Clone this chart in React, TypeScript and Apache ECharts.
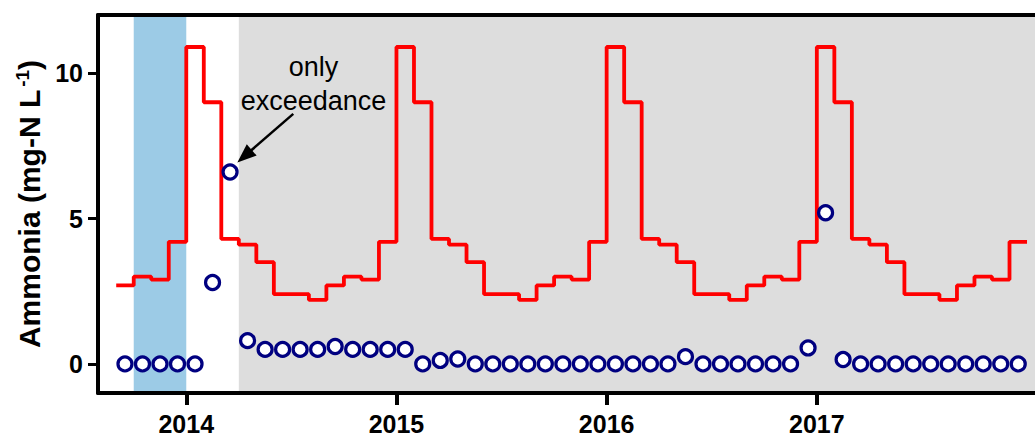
import React, { useEffect, useRef } from "react";
import * as echarts from "echarts";

// ---- data ----
const sampleYears = [2013, 2014, 2015, 2016, 2017];
const firstMonth = [9, 1, 1, 1, 1]; // first month (1-12) present in each year

const ammonia2013 = [0, 0, 0, 0];
const ammonia2014 = [0, 2.8, 6.6, 0.8, 0.5, 0.5, 0.5, 0.5, 0.6, 0.5, 0.5, 0.5];
const ammonia2015 = [0.5, 0, 0.12, 0.17, 0, 0, 0, 0, 0, 0, 0, 0];
const ammonia2016 = [0, 0, 0, 0, 0.25, 0, 0, 0, 0, 0, 0, 0.55];
const ammonia2017 = [5.2, 0.15, 0, 0, 0, 0, 0, 0, 0, 0, 0, 0];

const limit2013 = [2.7, 3.0, 2.9, 4.2];
const limit2014 = [10.9, 9.0, 4.3, 4.1, 3.5, 2.4, 2.4, 2.2, 2.7, 3.0, 2.9, 4.2];
const limit2015 = [10.9, 9.0, 4.3, 4.1, 3.5, 2.4, 2.4, 2.2, 2.7, 3.0, 2.9, 4.2];
const limit2016 = [10.9, 9.0, 4.3, 4.1, 3.5, 2.4, 2.4, 2.2, 2.7, 3.0, 2.9, 4.2];
const limit2017 = [10.9, 9.0, 4.3, 4.1, 3.5, 2.4, 2.4, 2.2, 2.7, 3.0, 2.9, 4.2];

const ammoniaYears = [ammonia2013, ammonia2014, ammonia2015, ammonia2016, ammonia2017];
const limitYears = [limit2013, limit2014, limit2015, limit2016, limit2017];

const xTicks = [2014, 2015, 2016, 2017];
const yTicks = [0, 5, 10];
const xMin = 2013.58;
const xMax = 2018.038;
const yMin = -1;
const yMax = 12;

const blueBand = [2013.75, 2014.0];
const greyBand = [2014.25, xMax];

const yTitle = "Ammonia (mg-N L";
const ySup = "-1";
const noteText = "only\nexceedance";
const notePos = [2014.605, 9.63];
const arrowTail = [2014.509, 8.6];
const arrowHead = [2014.243, 6.93];

// ---- build series data ----
const samplePoints: number[][] = [];
const limitPoints: number[][] = [];
sampleYears.forEach((yr, i) => {
  ammoniaYears[i].forEach((v, j) => {
    const m = firstMonth[i] - 1 + j;
    samplePoints.push([yr + (m + 0.5) / 12, v]);
  });
  limitYears[i].forEach((v, j) => {
    const m = firstMonth[i] - 1 + j;
    limitPoints.push([yr + m / 12, v]);
  });
});
{
  const lastYear = sampleYears[sampleYears.length - 1];
  const lastLimits = limitYears[limitYears.length - 1];
  limitPoints.push([lastYear + 1, lastLimits[lastLimits.length - 1]]);
}

const FONT = "'Liberation Sans', Arial, Helvetica, sans-serif";

export default function App() {
  const ref = useRef<HTMLDivElement>(null);
  useEffect(() => {
    const chart = echarts.init(ref.current!, null, { renderer: "svg" });
    const option: any = {
      animation: false,
      backgroundColor: "#ffffff",
      grid: { left: 98, right: 0, top: 15, bottom: 43, containLabel: false },
      xAxis: [
        {
          type: "value",
          min: xMin,
          max: xMax,
          z: 10,
          axisLine: { show: true, onZero: false, lineStyle: { color: "#000", width: 4 } },
          axisTick: { show: true, customValues: xTicks, length: 12, inside: false, lineStyle: { color: "#000", width: 4 } },
          axisLabel: {
            show: true,
            customValues: xTicks,
            formatter: (v: number) => String(Math.round(v)),
            margin: 18,
            color: "#000",
            fontSize: 25,
            fontWeight: "bold",
            fontFamily: FONT,
          },
          splitLine: { show: false },
        },
        {
          type: "value",
          position: "top",
          min: xMin,
          max: xMax,
          z: 10,
          axisLine: { show: true, onZero: false, lineStyle: { color: "#000", width: 4 } },
          axisTick: { show: false },
          axisLabel: { show: false },
          splitLine: { show: false },
        },
      ],
      yAxis: {
        type: "value",
        min: yMin,
        max: yMax,
        z: 10,
        axisLine: { show: true, onZero: false, lineStyle: { color: "#000", width: 4 } },
        axisTick: { show: true, customValues: yTicks, length: 10, lineStyle: { color: "#000", width: 3 } },
        axisLabel: {
          show: true,
          customValues: yTicks,
          margin: 15,
          color: "#000",
          fontSize: 25,
          fontWeight: "bold",
          fontFamily: FONT,
        },
        splitLine: { show: false },
        name: "{a|" + yTitle + "}{s|" + ySup + "}{a|)}",
        nameLocation: "middle",
        nameRotate: 90,
        nameGap: 48,
        nameTextStyle: {
          rich: {
            a: { fontSize: 30, fontWeight: "bold", fontFamily: FONT, color: "#000", lineHeight: 33 },
            s: { fontSize: 19, fontWeight: "bold", fontFamily: FONT, color: "#000", verticalAlign: "top", lineHeight: 19, padding: [0, 0, 0, 3] },
          },
        },
      },
      series: [
        {
          type: "scatter",
          z: 1,
          silent: true,
          data: [],
          markArea: {
            silent: true,
            data: [
              [{ xAxis: blueBand[0], itemStyle: { color: "#9ccbe6" } }, { xAxis: blueBand[1] }],
              [{ xAxis: greyBand[0], itemStyle: { color: "#dddddd" } }, { xAxis: greyBand[1] }],
            ],
          },
        },
        {
          type: "line",
          z: 3,
          step: "end",
          data: limitPoints,
          showSymbol: false,
          symbol: "none",
          lineStyle: { color: "#ff0000", width: 3.8 },
        },
        {
          type: "scatter",
          z: 4,
          data: samplePoints,
          symbol: "circle",
          symbolSize: 14,
          itemStyle: { color: "#ffffff", borderColor: "#000080", borderWidth: 3.2, opacity: 1 },
        },
        {
          type: "custom",
          z: 5,
          coordinateSystem: "cartesian2d",
          data: [[notePos[0], notePos[1], arrowTail[0], arrowTail[1], arrowHead[0], arrowHead[1]]],
          encode: { x: [0, 2, 4], y: [1, 3, 5] },
          renderItem: (params: any, api: any) => {
            const t = api.coord([api.value(0), api.value(1)]);
            const a = api.coord([api.value(2), api.value(3)]);
            const h = api.coord([api.value(4), api.value(5)]);
            const dx = h[0] - a[0];
            const dy = h[1] - a[1];
            const len = Math.hypot(dx, dy);
            const ux = dx / len;
            const uy = dy / len;
            const headLen = 19;
            const headW = 7.5;
            const bx = h[0] - ux * headLen;
            const by = h[1] - uy * headLen;
            const px = -uy;
            const py = ux;
            return {
              type: "group",
              children: [
                {
                  type: "line",
                  shape: { x1: a[0], y1: a[1], x2: bx + ux * 2, y2: by + uy * 2 },
                  style: { stroke: "#000", lineWidth: 2.5 },
                },
                {
                  type: "polygon",
                  shape: {
                    points: [
                      [h[0], h[1]],
                      [bx + px * headW, by + py * headW],
                      [bx - px * headW, by - py * headW],
                    ],
                  },
                  style: { fill: "#000" },
                },
                {
                  type: "text",
                  x: t[0],
                  y: t[1],
                  style: {
                    text: noteText,
                    fontSize: 27,
                    fontFamily: FONT,
                    fill: "#000",
                    align: "center",
                    verticalAlign: "middle",
                    lineHeight: 34,
                  },
                },
              ],
            };
          },
        },
      ],
    };
    chart.setOption(option);
    return () => chart.dispose();
  }, []);
  return (
    <div
      ref={ref}
      style={{ position: "fixed", left: 0, top: 0, width: 1035, height: 436, background: "#fff" }}
    />
  );
}
